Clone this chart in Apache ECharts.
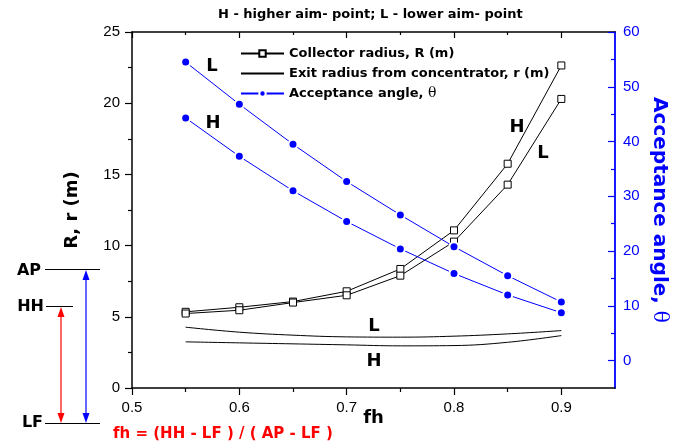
<!DOCTYPE html>
<html>
<head>
<meta charset="utf-8">
<script src="https://cdn.jsdelivr.net/npm/echarts@6/dist/echarts.min.js"></script>
<style>
html,body{margin:0;padding:0;background:#fff;}
#chart{width:678px;height:446px;}
</style>
</head>
<body>
<div id="chart"></div>
<script>
// ---- data ----
const fhValues = [0.55, 0.6, 0.65, 0.7, 0.75, 0.8, 0.85, 0.9];
const collectorRadiusH = [5.35, 5.67, 6.07, 6.79, 8.36, 11.07, 15.75, 22.65];
const collectorRadiusL = [5.23, 5.46, 6.0, 6.51, 7.89, 10.28, 14.28, 20.3];
const exitRadiusL = [4.27, 3.92, 3.71, 3.59, 3.57, 3.64, 3.8, 4.03];
const exitRadiusH = [3.24, 3.17, 3.1, 3.03, 2.96, 2.98, 3.21, 3.68];
const acceptanceAngleL = [54.5, 46.8, 39.5, 32.7, 26.6, 20.8, 15.5, 10.7];
const acceptanceAngleH = [44.3, 37.3, 31.0, 25.4, 20.4, 15.9, 12.0, 8.74];
const xTickLabels = [0.5, 0.6, 0.7, 0.8, 0.9];
const xMinorTicks = [0.55, 0.65, 0.75, 0.85];
const thetaTickLabels = [0, 10, 20, 30, 40, 50, 60];
const thetaMinorTicks = [5, 15, 25, 35, 45, 55];

const nameR = 'Collector radius, R (m)';
const nameRr = 'Exit radius from concentrator, r (m)';
const nameTheta = 'Acceptance angle, θ';

function pairs(ys) { return fhValues.map((x, i) => [x, ys[i]]); }

const BOLD = 'DejaVu Sans';
const REG = 'Liberation Sans';
const BLUE = '#0000ff';
const gridRect = { left: 132, right: 63, top: 32, bottom: 58 };

const chart = echarts.init(document.getElementById('chart'), null, { renderer: 'canvas' });

const rStyle = {
  type: 'line', xAxisIndex: 0, yAxisIndex: 0, name: nameR,
  symbol: 'rect', symbolSize: 7,
  itemStyle: { color: '#fff', borderColor: '#000', borderWidth: 1 },
  lineStyle: { color: '#000', width: 1 }, z: 3
};
const exitStyle = {
  type: 'line', xAxisIndex: 0, yAxisIndex: 0, name: nameRr,
  symbol: 'none', smooth: 0.4,
  itemStyle: { color: '#000' },
  lineStyle: { color: '#000', width: 1 }, z: 2
};
const thetaStyle = {
  type: 'line', xAxisIndex: 0, yAxisIndex: 1, name: nameTheta,
  symbol: 'circle', symbolSize: 9,
  itemStyle: { color: BLUE, borderColor: '#fff', borderWidth: 2 },
  lineStyle: { color: BLUE, width: 1 }, z: 4
};

function label(text, x, y, size) {
  return { type: 'text', x: x, y: y, style: { text: text, font: 'bold ' + size + 'px "' + BOLD + '"', fill: '#000', align: 'center', verticalAlign: 'middle' } };
}
function hline(x1, x2, y, color) {
  return { type: 'line', shape: { x1: x1, y1: y, x2: x2, y2: y }, style: { stroke: color || '#000', lineWidth: 1 } };
}
function arrow(x, yTop, yBot, color) {
  return [
    { type: 'line', shape: { x1: x, y1: yTop + 6, x2: x, y2: yBot - 6 }, style: { stroke: color, lineWidth: 1.2 } },
    { type: 'polygon', shape: { points: [[x, yTop], [x - 3.5, yTop + 10], [x + 3.5, yTop + 10]] }, style: { fill: color } },
    { type: 'polygon', shape: { points: [[x, yBot], [x - 3.5, yBot - 10], [x + 3.5, yBot - 10]] }, style: { fill: color } }
  ];
}
const noZero = { onZero: false };

const option = {
  animation: false,
  backgroundColor: '#fff',
  title: {
    text: 'H - higher aim- point; L - lower aim- point',
    left: 218, top: 8, padding: 0,
    textStyle: { fontFamily: BOLD, fontWeight: 'bold', fontSize: 13, color: '#000' }
  },
  legend: {
    orient: 'vertical', left: 240, top: 45, padding: 0,
    itemWidth: 43, itemHeight: 8, itemGap: 3,
    selectedMode: false,
    data: [
      { name: nameR },
      { name: nameRr, itemStyle: { opacity: 0 } },
      { name: nameTheta }
    ],
    formatter: function (n) { return n === nameTheta ? 'Acceptance angle, {t|θ}' : n; },
    textStyle: {
      fontFamily: BOLD, fontWeight: 'bold', fontSize: 13, color: '#000', lineHeight: 17,
      rich: { t: { fontFamily: 'DejaVu Serif', fontWeight: 'normal', fontSize: 14, color: '#000', lineHeight: 17 } }
    }
  },
  grid: [
    Object.assign({}, gridRect),
    Object.assign({}, gridRect)
  ],
  xAxis: [
    {
      type: 'value', gridIndex: 0, position: 'bottom', min: 0.5, max: 0.95,
      name: 'fh', nameLocation: 'middle', nameGap: 21, nameMoveOverlap: false,
      nameTextStyle: { fontFamily: BOLD, fontWeight: 'bold', fontSize: 18, color: '#000' },
      axisLine: Object.assign({ lineStyle: { color: '#000', width: 1.5 } }, noZero),
      axisTick: { show: true, inside: false, length: 7, customValues: xTickLabels, lineStyle: { color: '#000', width: 1.2 } },
      axisLabel: { customValues: xTickLabels, margin: 12, fontFamily: REG, fontSize: 15, color: '#000', formatter: v => v.toFixed(1) },
      splitLine: { show: false }
    },
    {
      type: 'value', gridIndex: 0, position: 'top', min: 0.5, max: 0.95,
      axisLine: Object.assign({ lineStyle: { color: '#000', width: 1.5 } }, noZero),
      axisTick: { show: true, inside: true, length: 6, customValues: xTickLabels, lineStyle: { color: '#000', width: 1.2 } },
      axisLabel: { show: false },
      splitLine: { show: false }
    },
    {
      type: 'value', gridIndex: 1, position: 'bottom', min: 0.5, max: 0.95,
      axisLine: Object.assign({ show: false }, noZero),
      axisTick: { show: true, inside: false, length: 4, customValues: xMinorTicks, lineStyle: { color: '#000', width: 1.2 } },
      axisLabel: { show: false },
      splitLine: { show: false }
    },
    {
      type: 'value', gridIndex: 1, position: 'top', min: 0.5, max: 0.95,
      axisLine: Object.assign({ show: false }, noZero),
      axisTick: { show: true, inside: true, length: 3, customValues: xMinorTicks, lineStyle: { color: '#000', width: 1.2 } },
      axisLabel: { show: false },
      splitLine: { show: false }
    }
  ],
  yAxis: [
    {
      type: 'value', gridIndex: 0, position: 'left', min: 0, max: 25, interval: 5,
      name: 'R, r (m)', nameLocation: 'middle', nameGap: 51, nameRotate: 90, nameMoveOverlap: false,
      nameTextStyle: { fontFamily: BOLD, fontWeight: 'bold', fontSize: 18, color: '#000' },
      axisLine: Object.assign({ show: true, lineStyle: { color: '#000', width: 1.5 } }, noZero),
      axisTick: { show: true, inside: false, length: 7, lineStyle: { color: '#000', width: 1.2 } },
      minorTick: { show: true, splitNumber: 2, length: 4, lineStyle: { color: '#000', width: 1.2 } },
      axisLabel: { margin: 12, fontFamily: REG, fontSize: 15, color: '#000' },
      splitLine: { show: false }
    },
    {
      type: 'value', gridIndex: 0, position: 'right', min: -5, max: 60,
      name: 'Acceptance angle, {t|θ}', nameLocation: 'middle', nameGap: 34, nameRotate: -90, nameMoveOverlap: false,
      nameTextStyle: {
        fontFamily: BOLD, fontWeight: 'bold', fontSize: 20, color: BLUE,
        rich: { t: { fontFamily: 'DejaVu Serif', fontWeight: 'normal', fontSize: 20, color: BLUE } }
      },
      axisLine: Object.assign({ show: true, lineStyle: { color: BLUE, width: 1.8 } }, noZero),
      axisTick: { show: true, inside: true, length: 7, customValues: thetaTickLabels, lineStyle: { color: BLUE, width: 1.2 } },
      axisLabel: { customValues: thetaTickLabels, margin: 8, fontFamily: REG, fontSize: 15, color: BLUE },
      splitLine: { show: false }
    },
    {
      type: 'value', gridIndex: 1, position: 'right', min: -5, max: 60,
      axisLine: Object.assign({ show: false }, noZero),
      axisTick: { show: true, inside: true, length: 4, customValues: thetaMinorTicks, lineStyle: { color: BLUE, width: 1.2 } },
      axisLabel: { show: false },
      splitLine: { show: false }
    },
    {
      type: 'value', gridIndex: 1, position: 'left', min: 0, max: 25, show: false,
      axisLine: noZero
    }
  ],
  series: [
    Object.assign({}, rStyle, { data: pairs(collectorRadiusH) }),
    Object.assign({}, rStyle, { data: pairs(collectorRadiusL) }),
    Object.assign({}, exitStyle, { data: pairs(exitRadiusL) }),
    Object.assign({}, exitStyle, { data: pairs(exitRadiusH) }),
    Object.assign({}, thetaStyle, { data: pairs(acceptanceAngleL) }),
    Object.assign({}, thetaStyle, { data: pairs(acceptanceAngleH) })
  ],
  graphic: [
    label('L', 212, 66, 18),
    label('H', 213, 123, 18),
    label('H', 517, 127, 18),
    label('L', 543, 153, 18),
    label('L', 374, 326, 18),
    label('H', 374, 361, 18),
    { type: 'text', x: 41, y: 271, style: { text: 'AP', font: 'bold 16px "' + BOLD + '"', fill: '#000', align: 'right', verticalAlign: 'middle' } },
    { type: 'text', x: 44, y: 307, style: { text: 'HH', font: 'bold 16px "' + BOLD + '"', fill: '#000', align: 'right', verticalAlign: 'middle' } },
    { type: 'text', x: 43, y: 423, style: { text: 'LF', font: 'bold 16px "' + BOLD + '"', fill: '#000', align: 'right', verticalAlign: 'middle' } },
    hline(45, 100, 269.5),
    hline(46, 73, 306.5),
    hline(45, 100, 423.5),
    ...arrow(61, 307, 423, '#ff0000'),
    ...arrow(86, 270, 423, BLUE),
    { type: 'text', x: 113, y: 434, style: { text: 'fh = (HH - LF ) / ( AP - LF )', font: 'bold 15px "' + BOLD + '"', fill: '#ff0000', align: 'left', verticalAlign: 'middle' } }
  ]
};
chart.setOption(option);
</script>
</body>
</html>
